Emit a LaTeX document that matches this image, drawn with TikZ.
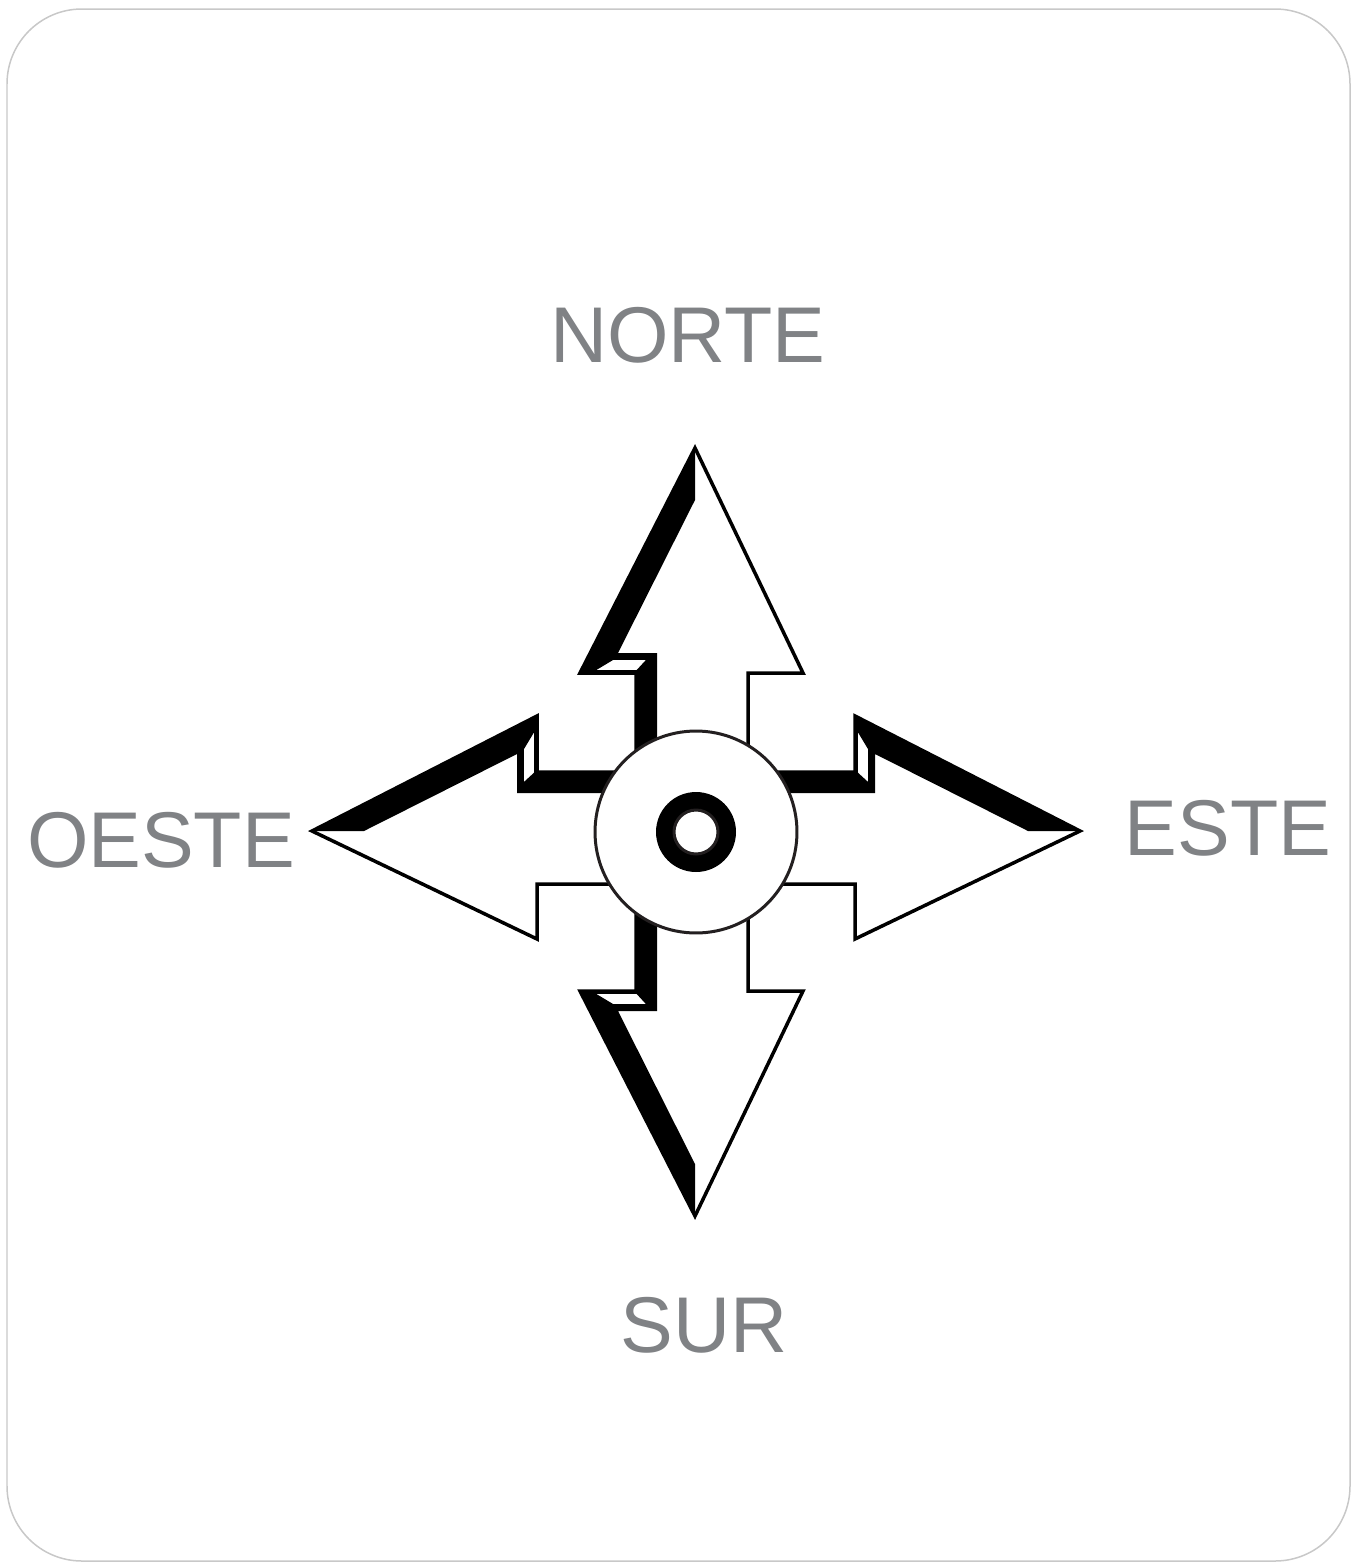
\documentclass[tikz,border=0pt]{standalone}
\usepackage{fontspec}
\setmainfont{Liberation Sans}
\definecolor{labelgray}{HTML}{808285}
\definecolor{framegray}{HTML}{C8C8C8}
\definecolor{ringdark}{HTML}{231F20}
\tikzset{
  arrowline/.style={draw=black, line width=0.07cm, line join=miter, fill=white},
  shadowfill/.style={fill=black},
  bevel/.style={draw=black, line width=0.035cm, fill=white, line join=miter},
  cardlabel/.style={text=labelgray, font=\fontsize{45}{54}\selectfont, inner sep=0pt, anchor=base}
}
\newcommand{\compassarrow}{%
  \fill[white] (-1,-384) -- (107,-159) -- (52,-159) -- (52,0) -- (-60,0) -- (-60,-159) -- (-116,-159) -- cycle;
  \fill[shadowfill] (-1,-384) -- (-116,-159) -- (-60,-159) -- (-60,0) -- (-39,0) -- (-39,-179) -- (-78,-179) -- (-1,-332) -- cycle;
  \draw[bevel] (-103,-161) -- (-83,-173) -- (-48,-173) -- (-59,-161) -- cycle;
  \draw[arrowline, fill=none] (-1,-384) -- (107,-159) -- (52,-159) -- (52,0) -- (-60,0) -- (-60,-159) -- (-116,-159) -- cycle;
}
\begin{document}
\begin{tikzpicture}[x=0.02cm, y=-0.02cm]
  \useasboundingbox (0,0) rectangle (1356,1562);
  \draw[framegray, line width=0.03cm, rounded corners=1.5cm] (7,9) rectangle (1350,1561);
  \begin{scope}[shift={(696,832)}]
    % north
    \begin{scope}\compassarrow\end{scope}
    % south
    \begin{scope}[yscale=-1]\compassarrow\end{scope}
    % east
    \begin{scope}[rotate=-90]\compassarrow\end{scope}
    % west
    \begin{scope}[xscale=-1]\begin{scope}[rotate=-90]\compassarrow\end{scope}\end{scope}
  \end{scope}
  \node[circle, draw=ringdark, fill=white, line width=0.06cm, minimum size=4.04cm, inner sep=0pt] (hub) at (696,832) {};
  \node[circle, fill=black, minimum size=1.6cm, inner sep=0pt] (ring) at (696,832) {};
  \node[circle, draw=ringdark, fill=white, line width=0.06cm, minimum size=0.88cm, inner sep=0pt] (hole) at (696,832) {};
  \node[cardlabel] (norte) at (688,362) {NORTE};
  \node[cardlabel] (oeste) at (161,867) {OESTE};
  \node[cardlabel] (este) at (1228,855) {ESTE};
  \node[cardlabel] (sur) at (704,1352) {SUR};
\end{tikzpicture}
\end{document}
